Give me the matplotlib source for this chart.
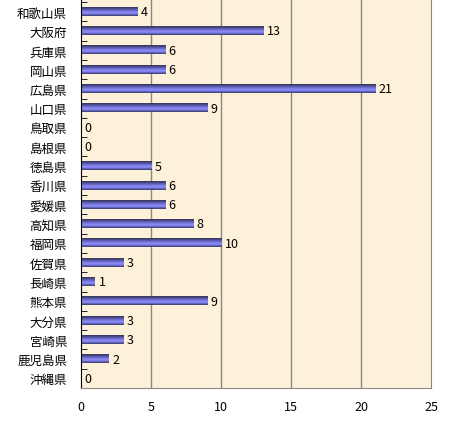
import matplotlib.pyplot as plt
import numpy as np
from matplotlib.colors import LinearSegmentedColormap

plt.rcParams['font.family'] = ['Noto Sans CJK JP', 'DejaVu Sans']

# data (top to bottom)
prefs = ['和歌山県', '大阪府', '兵庫県', '岡山県', '広島県', '山口県', '鳥取県', '島根県',
         '徳島県', '香川県', '愛媛県', '高知県', '福岡県', '佐賀県', '長崎県', '熊本県',
         '大分県', '宮崎県', '鹿児島県', '沖縄県']
counts = [4, 13, 6, 6, 21, 9, 0, 0, 5, 6, 6, 8, 10, 3, 1, 9, 3, 3, 2, 0]
xticks = [0, 5, 10, 15, 20, 25]

n = len(prefs)
ypos = np.arange(n)[::-1]

fig = plt.figure(figsize=(4.65, 4.35), dpi=100)
ax = fig.add_axes([81/465, 1-389/435, 350/465, 389/435])
ax.set_facecolor('#fdf1da')

ax.set_xlim(0, 25)
ax.set_ylim(-0.5, -0.5 + 389/19.3)

# grid
for g in xticks[1:-1]:
    ax.axvline(g, color='#8c877e', lw=1, zorder=1)

# gradient bars (top row of image = top of bar)
grad = np.array([0.05, 0.2, 0.45, 0.65, 0.85, 1.0, 0.9, 0.55, 0.2]).reshape(-1, 1)
cmap = LinearSegmentedColormap.from_list('bar', ['#38385e', '#5e5eb8', '#8a8af4'])
h = 0.44
for y, v in zip(ypos, counts):
    if v > 0:
        ax.imshow(grad, cmap=cmap, vmin=0, vmax=1, aspect='auto',
                  extent=(0, v, y - h/2, y + h/2), zorder=2, interpolation='bilinear')
    ax.text(v + 0.25, y, str(v), va='center', ha='left', fontsize=9, zorder=3)

ax.set_yticks(ypos)
ax.set_yticklabels(prefs, fontsize=9)
ax.set_yticks(np.arange(-0.5, n, 1), minor=True)
ax.tick_params(axis='y', which='major', length=0, pad=10)
ax.tick_params(axis='y', which='minor', length=4, direction='in', color='black')

ax.set_xticks(xticks)
ax.set_xticklabels([str(t) for t in xticks], fontsize=9)
ax.tick_params(axis='x', length=0, pad=9)

ax.spines['top'].set_visible(False)
ax.spines['right'].set_color('#8c877e')
ax.spines['left'].set_color('black')
ax.spines['bottom'].set_color('#8c877e')

plt.savefig('out.png', dpi=100)
